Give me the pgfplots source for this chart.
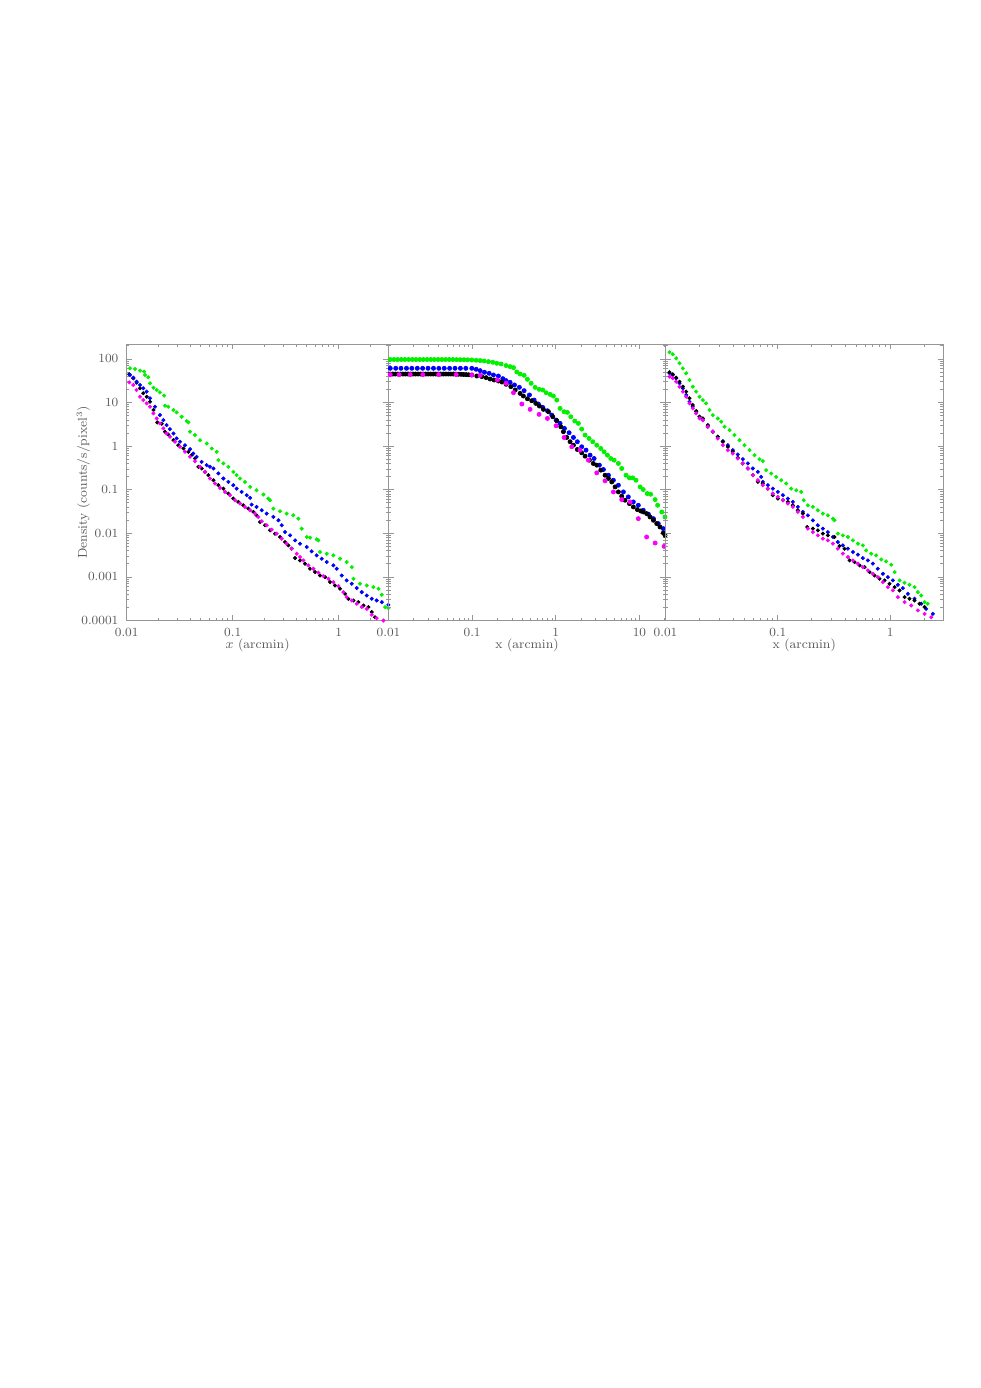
\documentclass[border=0pt]{standalone}
\usepackage{pgfplots}
\pgfplotsset{compat=1.18}
\definecolor{cgreen}{RGB}{0,240,0}
\definecolor{cblue}{RGB}{0,0,255}
\definecolor{cmag}{RGB}{250,0,250}
\definecolor{axgray}{RGB}{150,150,150}
\definecolor{txtgray}{RGB}{90,90,90}
\pgfplotsset{
  mypanel/.style={
    scale only axis, height=165.9pt, anchor=north west,
    ymin=1e-4, ymax=220,
    axis line style={axgray, line width=0.6pt},
    every tick/.style={axgray, line width=0.45pt},
    major tick length=3.2pt, minor tick length=1.6pt,
    tick align=inside,
    log ticks with fixed point,
    ytick={1e-4,1e-3,1e-2,1e-1,1,10,100},
    minor ytick={2e-4,3e-4,4e-4,5e-4,6e-4,7e-4,8e-4,9e-4,2e-3,3e-3,4e-3,5e-3,6e-3,7e-3,8e-3,9e-3,0.02,0.03,0.04,0.05,0.06,0.07,0.08,0.09,0.2,0.3,0.4,0.5,0.6,0.7,0.8,0.9,2,3,4,5,6,7,8,9,20,30,40,50,60,70,80,90,200},
    ticklabel style={font=\fontsize{7.5}{9}\selectfont, text=txtgray},
    yticklabel style={xshift=-1.5pt},
    xticklabel style={yshift=-1pt},
    label style={font=\fontsize{7.7}{9}\selectfont, text=txtgray},
    xlabel style={at={(axis description cs:0.5,-0.089)}, anchor=center},
  },
  smalldot/.style={only marks, mark=*, mark size=1.0pt},
  bigdot/.style={only marks, mark=*, mark size=1.25pt},
}
\begin{document}
\begin{tikzpicture}
\path[use as bounding box] (0,0) rectangle (588.6pt,-832.8pt);
% ---------------- Panel 1 ----------------
\begin{loglogaxis}[mypanel, at={(76.0pt,-206.4pt)}, width=157.1pt,
  xmin=0.01, xmax=2.95,
  xtick={0.01,0.1,1}, xticklabels={0.01,0.1,1},
  minor xtick={0.02,0.03,0.04,0.05,0.06,0.07,0.08,0.09,0.2,0.3,0.4,0.5,0.6,0.7,0.8,0.9,2},
  yticklabels={0.0001,0.001,0.01,0.1,1,10,100},
  xlabel={$x$ (arcmin)},
  ylabel={Density (counts/s/pixel$^3$)},
  ylabel style={at={(axis description cs:-0.165,0.5)}, anchor=center},
]
\addplot[smalldot, cgreen] coordinates {
(0.01074,61)(0.0120,58.9)(0.01337,53.9)(0.01459,51.2)(0.0149,42.9)(0.0160,37.9)(0.0166,27.6)(0.0179,21.9)(0.0192,19.4)(0.0206,17.1)(0.0226,14.4)(0.0230,8.45)(0.0247,8.0)(0.0276,6.73)(0.0296,5.94)(0.0330,4.72)(0.0368,3.76)(0.0382,3.50)(0.0396,2.14)(0.0441,1.79)(0.0492,1.37)(0.0569,1.15)(0.0634,0.883)(0.0707,0.741)(0.0733,0.477)(0.0817,0.400)(0.0911,0.335)(0.1014,0.257)(0.109,0.216)(0.1173,0.181)(0.1306,0.151)(0.146,0.116)(0.168,0.0975)(0.195,0.0775)(0.217,0.0627)(0.225,0.0574)(0.242,0.0369)(0.280,0.0321)(0.323,0.0283)(0.373,0.0259)(0.416,0.0217)(0.448,0.0128)(0.499,0.00824)(0.537,0.00795)(0.620,0.00728)(0.643,0.0069)(0.667,0.00372)(0.771,0.00341)(0.891,0.00312)(1.03,0.00262)(1.19,0.00219)(1.33,0.00168)(1.38,0.000908)(1.59,0.000697)(1.84,0.000638)(2.12,0.000584)(2.37,0.000535)(2.55,0.000389)(2.74,0.000203)(2.94,0.000192)
};
\addplot[smalldot, black] coordinates {
(0.0106,44.5)(0.01156,36.0)(0.0124,28.6)(0.01337,21.2)(0.01435,16.3)(0.01545,13.6)(0.0166,10.4)(0.0179,6.73)(0.01945,3.50)(0.0214,3.26)(0.0230,2.14)(0.0247,1.85)(0.0276,1.37)(0.0307,1.05)(0.0343,0.883)(0.0382,0.741)(0.0410,0.621)(0.0441,0.520)(0.0474,0.335)(0.0510,0.307)(0.0548,0.257)(0.0589,0.216)(0.0658,0.165)(0.0733,0.127)(0.0817,0.106)(0.0911,0.0817)(0.1014,0.0627)(0.113,0.0525)(0.126,0.0440)(0.1406,0.0369)(0.1567,0.0309)(0.168,0.0259)(0.181,0.0182)(0.202,0.0153)(0.225,0.0117)(0.2506,0.00982)(0.280,0.00824)(0.312,0.00632)(0.335,0.00530)(0.360,0.00444)(0.388,0.00271)(0.432,0.00239)(0.481,0.00201)(0.537,0.00154)(0.598,0.00129)(0.667,0.00108)(0.743,0.00099)(0.828,0.00076)(0.922,0.000638)(1.03,0.000535)(1.148,0.00041)(1.234,0.000315)(1.38,0.000288)(1.53,0.000264)(1.71,0.000221)(1.905,0.000203)(2.05,0.000156)(2.20,0.000119)
};
\addplot[smalldot, cblue] coordinates {
(0.01074,42.9)(0.01156,37.2)(0.0124,30.1)(0.01337,25.3)(0.01435,21.2)(0.01545,17.8)(0.0166,12.5)(0.0185,8.0)(0.0206,5.16)(0.0222,3.96)(0.0238,3.04)(0.0256,2.46)(0.0276,1.95)(0.0296,1.50)(0.0318,1.26)(0.0355,1.05)(0.0396,0.853)(0.0425,0.678)(0.0457,0.569)(0.0510,0.436)(0.0569,0.366)(0.0611,0.335)(0.0658,0.307)(0.0733,0.236)(0.0817,0.181)(0.0911,0.151)(0.1014,0.127)(0.109,0.106)(0.1216,0.0891)(0.1355,0.0748)(0.146,0.0649)(0.151,0.0456)(0.168,0.0403)(0.188,0.0338)(0.2094,0.0283)(0.242,0.0237)(0.270,0.0199)(0.290,0.0153)(0.312,0.0107)(0.348,0.0090)(0.388,0.0069)(0.432,0.00578)(0.499,0.00485)(0.556,0.00386)(0.620,0.00312)(0.692,0.00262)(0.771,0.00219)(0.891,0.00184)(0.957,0.00154)(1.067,0.00108)(1.19,0.000832)(1.33,0.000697)(1.48,0.000554)(1.65,0.000448)(1.84,0.000376)(2.05,0.000315)(2.28,0.000288)(2.55,0.000264)(2.94,0.000229)
};
\addplot[smalldot, cmag] coordinates {
(0.0106,29.1)(0.01156,25.3)(0.0124,19.4)(0.01337,13.6)(0.01435,11.4)(0.01545,9.57)(0.0166,8.0)(0.0179,5.64)(0.0192,4.32)(0.0206,3.32)(0.0222,2.55)(0.0238,1.95)(0.0256,1.64)(0.0286,1.26)(0.0318,0.966)(0.0355,0.741)(0.0396,0.569)(0.0441,0.452)(0.0492,0.335)(0.0548,0.257)(0.0611,0.181)(0.0681,0.139)(0.0760,0.110)(0.0847,0.0891)(0.0945,0.0748)(0.1053,0.0574)(0.1173,0.0481)(0.1306,0.0403)(0.146,0.0338)(0.1626,0.0283)(0.1746,0.0237)(0.188,0.0189)(0.2094,0.0153)(0.233,0.0121)(0.260,0.00982)(0.290,0.00754)(0.323,0.00578)(0.360,0.00444)(0.402,0.00341)(0.432,0.00286)(0.465,0.00239)(0.518,0.00184)(0.577,0.00154)(0.643,0.00125)(0.717,0.00104)(0.800,0.000908)(0.891,0.00076)(0.993,0.000615)(1.107,0.000448)(1.19,0.000344)(1.33,0.000288)(1.48,0.000242)(1.65,0.000203)(1.84,0.000185)(2.05,0.000135)(2.28,0.000113)(2.64,0.0001)(2.94,0.0000947)
};
\end{loglogaxis}
% ---------------- Panel 2 ----------------
\begin{loglogaxis}[mypanel, at={(233.1pt,-206.4pt)}, width=166.2pt,
  xmin=0.01, xmax=20.5,
  xtick={0.01,0.1,1,10}, xticklabels={0.01,0.1,1,10},
  minor xtick={0.02,0.03,0.04,0.05,0.06,0.07,0.08,0.09,0.2,0.3,0.4,0.5,0.6,0.7,0.8,0.9,2,3,4,5,6,7,8,9,20},
  yticklabels={},
  xlabel={x (arcmin)},
]
\addplot[bigdot, cgreen] coordinates {
(0.0105,97)(0.0116,97)(0.0128,97)(0.0142,97)(0.0157,97)(0.0174,97)(0.0193,97)(0.0213,97)(0.0236,97)(0.0261,97)(0.0289,97)(0.0320,97)(0.0354,97)(0.0392,97)(0.0434,97)(0.0480,97)(0.0532,97)(0.0589,97)(0.0652,96.5)(0.0721,96)(0.0799,96)(0.0884,95.5)
(0.0991,94.8)(0.1117,93.2)(0.1246,91.6)(0.139,89.9)(0.1567,86.8)(0.1766,83.8)(0.197,79.5)(0.222,76.7)(0.2547,70.3)(0.2844,66.6)(0.312,63.2)(0.342,50.2)(0.374,45.2)(0.418,42.1)(0.458,34.1)(0.507,27.6)(0.566,22.3)(0.631,20.1)(0.698,19.4)(0.766,16.8)(0.855,15.4)(0.936,14.1)(1.028,11.4)(1.125,7.35)(1.256,6.15)(1.377,5.94)(1.51,4.72)(1.686,3.76)(1.862,3.32)(2.04,2.46)(2.239,1.79)(2.50,1.50)(2.767,1.26)(3.09,1.05)(3.45,0.883)(3.78,0.741)(4.14,0.621)(4.54,0.520)(4.98,0.477)(5.60,0.400)(6.14,0.307)(6.92,0.215)(7.59,0.187)(8.32,0.187)(9.10,0.165)(10.2,0.116)(11.1,0.101)(12.4,0.0817)(13.6,0.0788)(15.4,0.0594)(16.5,0.0440)(18.5,0.0309)(20.2,0.0237)
};
\addplot[bigdot, cblue] coordinates {
(0.0105,61)(0.0122,61)(0.0141,61)(0.0164,61)(0.0190,61)(0.0221,61)(0.0256,61)(0.0297,61)(0.0345,61)(0.0400,61)(0.0464,61)(0.0538,61)(0.0624,61)(0.0724,61)(0.0840,61)
(0.0991,61.0)(0.1117,57.9)(0.1246,53.9)(0.1404,49.4)(0.1596,46.8)(0.1797,42.9)(0.206,40.6)(0.233,35.3)(0.2547,31.8)(0.2844,29.1)(0.3206,25.3)(0.367,22.3)(0.418,18.7)(0.484,14.9)(0.551,11.4)(0.619,9.24)(0.698,7.74)(0.794,6.49)(0.895,5.16)(1.009,3.96)(1.125,3.32)(1.268,2.55)(1.442,2.03)(1.625,1.58)(1.81,1.26)(2.04,0.966)(2.30,0.809)(2.57,0.621)(2.87,0.520)(3.32,0.366)(3.71,0.291)(4.26,0.215)(4.88,0.165)(5.60,0.127)(6.43,0.0891)(7.36,0.0684)(8.45,0.0525)(9.70,0.0440)(11.1,0.0338)(12.8,0.0274)(14.7,0.0217)(16.8,0.0167)(19.3,0.0128)
};
\addplot[bigdot, black] coordinates {
(0.0105,45)(0.01126,45)(0.01207,45)(0.01294,45)(0.01387,45)(0.01487,45)(0.01594,45)(0.01709,45)(0.01832,45)(0.01964,45)(0.02105,45)(0.02257,45)(0.0242,45)(0.02594,45)(0.02781,45)(0.02981,45)(0.03196,45)(0.03426,45)(0.03673,45)(0.03937,45)(0.0422,45)(0.04524,45)(0.0485,45)(0.052,45)(0.05574,45)(0.05975,45)(0.06405,44.8)(0.06866,44.6)(0.0736,44.4)(0.0789,44)(0.0846,43.7)(0.0907,43.3)
(0.0991,42.9)(0.1137,40.6)(0.1305,39.2)(0.147,37.2)(0.164,34.7)(0.183,32.9)(0.206,31.2)(0.2265,29.6)(0.2547,26.2)(0.290,23.1)(0.327,19.4)(0.374,16.2)(0.410,14.1)(0.458,12.2)(0.516,11.0)(0.577,9.57)(0.637,8.31)(0.711,6.97)(0.817,6.15)(0.921,4.72)(1.028,3.82)(1.148,2.78)(1.233,2.14)(1.352,1.58)(1.482,1.26)(1.625,1.05)(1.81,0.838)(2.04,0.703)(2.239,0.589)(2.52,0.477)(2.81,0.400)(3.09,0.366)(3.45,0.281)(3.88,0.215)(4.26,0.181)(4.67,0.151)(5.12,0.116)(5.60,0.0891)(6.14,0.0710)(6.73,0.0574)(7.59,0.0481)(8.45,0.0403)(9.44,0.0350)(10.35,0.0326)(11.1,0.0309)(12.2,0.0283)(13.4,0.0237)(14.7,0.0199)(16.1,0.0167)(17.6,0.0140)(19.3,0.0102)(20.2,0.0090)
};
\addplot[bigdot, cmag] coordinates {
(0.0105,43.7)(0.0134,43.7)(0.0182,43.7)(0.0257,43.7)(0.0398,43.7)(0.0646,43.7)(0.0991,42.9)(0.1246,42.1)(0.2004,32.9)(0.2547,27.6)(0.312,16.8)(0.393,9.24)(0.493,6.97)(0.631,5.35)(0.794,4.32)(1.009,2.93)(1.256,1.58)(1.553,0.966)(1.95,0.809)(2.45,0.477)(3.09,0.244)(3.88,0.160)(4.88,0.0891)(6.14,0.0594)(7.73,0.0525)(9.70,0.0217)(12.2,0.00824)(15.4,0.0060)(19.7,0.00502)
};
\end{loglogaxis}
% ---------------- Panel 3 ----------------
\begin{loglogaxis}[mypanel, at={(399.3pt,-206.4pt)}, width=166.5pt,
  xmin=0.01, xmax=2.95,
  xtick={0.01,0.1,1}, xticklabels={0.01,0.1,1},
  minor xtick={0.02,0.03,0.04,0.05,0.06,0.07,0.08,0.09,0.2,0.3,0.4,0.5,0.6,0.7,0.8,0.9,2},
  yticklabels={},
  xlabel={x (arcmin)},
]
\addplot[smalldot, cgreen] coordinates {
(0.01086,142)(0.01161,128)(0.01245,103.5)(0.01333,79.4)(0.01427,61)(0.01528,46.8)(0.01636,32.9)(0.0175,23.1)(0.01875,17.8)(0.0201,13.6)(0.0215,11.4)(0.0230,9.57)(0.02465,6.73)(0.0264,5.16)(0.0292,4.32)(0.0313,3.62)(0.0335,2.78)(0.0372,2.33)(0.0411,1.79)(0.0456,1.37)(0.0505,1.05)(0.0560,0.809)(0.0620,0.621)(0.0687,0.502)(0.0735,0.452)(0.0787,0.281)(0.0873,0.236)(0.0967,0.197)(0.1071,0.165)(0.1187,0.139)(0.1315,0.106)(0.1457,0.0975)(0.1614,0.0891)(0.1703,0.0574)(0.185,0.0440)(0.205,0.0403)(0.227,0.0338)(0.2516,0.0283)(0.2786,0.0259)(0.309,0.0217)(0.319,0.0199)(0.342,0.00982)(0.379,0.0090)(0.420,0.00824)(0.466,0.0069)(0.516,0.00578)(0.571,0.0053)(0.611,0.00406)(0.677,0.00341)(0.750,0.00312)(0.832,0.00252)(0.921,0.00227)(1.02,0.0019)(1.094,0.00129)(1.211,0.000832)(1.342,0.000735)(1.486,0.00066)(1.647,0.000584)(1.763,0.000448)(1.888,0.000376)(2.02,0.000264)(2.16,0.000242)
};
\addplot[smalldot, cblue] coordinates {
(0.01086,46.8)(0.01161,42.9)(0.01245,36.0)(0.01333,27.6)(0.01427,21.2)(0.01528,14.9)(0.01636,10.4)(0.0175,8.0)(0.01875,6.15)(0.0201,4.72)(0.0215,3.96)(0.0238,2.78)(0.0264,2.14)(0.0292,1.64)(0.0324,1.30)(0.0359,1.05)(0.0397,0.809)(0.0440,0.643)(0.0488,0.502)(0.0541,0.400)(0.0599,0.307)(0.0664,0.257)(0.0711,0.197)(0.0735,0.151)(0.0815,0.127)(0.0902,0.106)(0.1,0.0891)(0.1109,0.0748)(0.1228,0.0627)(0.136,0.0525)(0.1507,0.0403)(0.167,0.0309)(0.185,0.0259)(0.205,0.0199)(0.227,0.0153)(0.2516,0.0128)(0.2786,0.0107)(0.309,0.00824)(0.342,0.00632)(0.379,0.0053)(0.420,0.00444)(0.466,0.00372)(0.516,0.00324)(0.571,0.00271)(0.633,0.00239)(0.701,0.00201)(0.776,0.00154)(0.861,0.00118)(0.953,0.00099)(1.056,0.000832)(1.17,0.00066)(1.297,0.000554)(1.437,0.00041)(1.647,0.000315)(1.888,0.000242)(2.09,0.000185)(2.40,0.000142)
};
\addplot[smalldot, black] coordinates {
(0.01086,49.3)(0.01161,44.5)(0.01245,37.2)(0.01333,30.1)(0.01427,23.1)(0.01528,17.8)(0.01636,12.5)(0.0175,8.77)(0.01875,6.38)(0.0201,4.72)(0.0215,4.32)(0.0238,3.04)(0.0264,2.14)(0.0292,1.64)(0.0324,1.26)(0.0359,0.966)(0.0397,0.741)(0.0440,0.539)(0.0488,0.400)(0.0541,0.307)(0.0599,0.216)(0.0664,0.151)(0.0735,0.139)(0.0815,0.106)(0.0902,0.0748)(0.1,0.0627)(0.1109,0.0574)(0.1228,0.0525)(0.136,0.0440)(0.1507,0.0338)(0.167,0.0283)(0.1825,0.0140)(0.205,0.0128)(0.227,0.0117)(0.2516,0.00982)(0.2786,0.0090)(0.319,0.00824)(0.354,0.00512)(0.392,0.00444)(0.435,0.00239)(0.482,0.00219)(0.534,0.00184)(0.592,0.00168)(0.655,0.00129)(0.725,0.00108)(0.803,0.000908)(0.891,0.000832)(0.986,0.000697)(1.094,0.000584)(1.211,0.00049)(1.342,0.000344)(1.486,0.000315)(1.647,0.000288)(1.825,0.000242)(2.02,0.000203)
};
\addplot[smalldot, cmag] coordinates {
(0.01086,39.3)(0.01161,36.0)(0.01245,30.1)(0.01333,23.1)(0.01427,17.8)(0.01528,13.6)(0.01636,9.57)(0.0175,7.35)(0.01875,5.64)(0.0201,4.32)(0.0215,3.96)(0.0238,2.78)(0.0264,2.14)(0.0292,1.50)(0.0324,1.05)(0.0359,0.809)(0.0397,0.678)(0.0440,0.520)(0.0488,0.400)(0.0541,0.307)(0.0599,0.216)(0.0664,0.165)(0.0735,0.127)(0.0815,0.106)(0.0902,0.0817)(0.1,0.0684)(0.1109,0.0574)(0.1228,0.0481)(0.136,0.0403)(0.1507,0.0309)(0.167,0.0237)(0.185,0.0128)(0.205,0.0107)(0.227,0.0090)(0.2516,0.00754)(0.2786,0.0069)(0.309,0.00578)(0.342,0.00444)(0.379,0.00341)(0.420,0.00286)(0.466,0.00239)(0.516,0.00201)(0.571,0.00168)(0.633,0.00141)(0.701,0.00118)(0.776,0.00099)(0.861,0.00076)(0.953,0.000584)(1.056,0.00049)(1.17,0.000344)(1.342,0.000264)(1.538,0.000221)(1.763,0.00017)(2.02,0.000142)(2.32,0.000119)
};
\end{loglogaxis}
\end{tikzpicture}
\end{document}
